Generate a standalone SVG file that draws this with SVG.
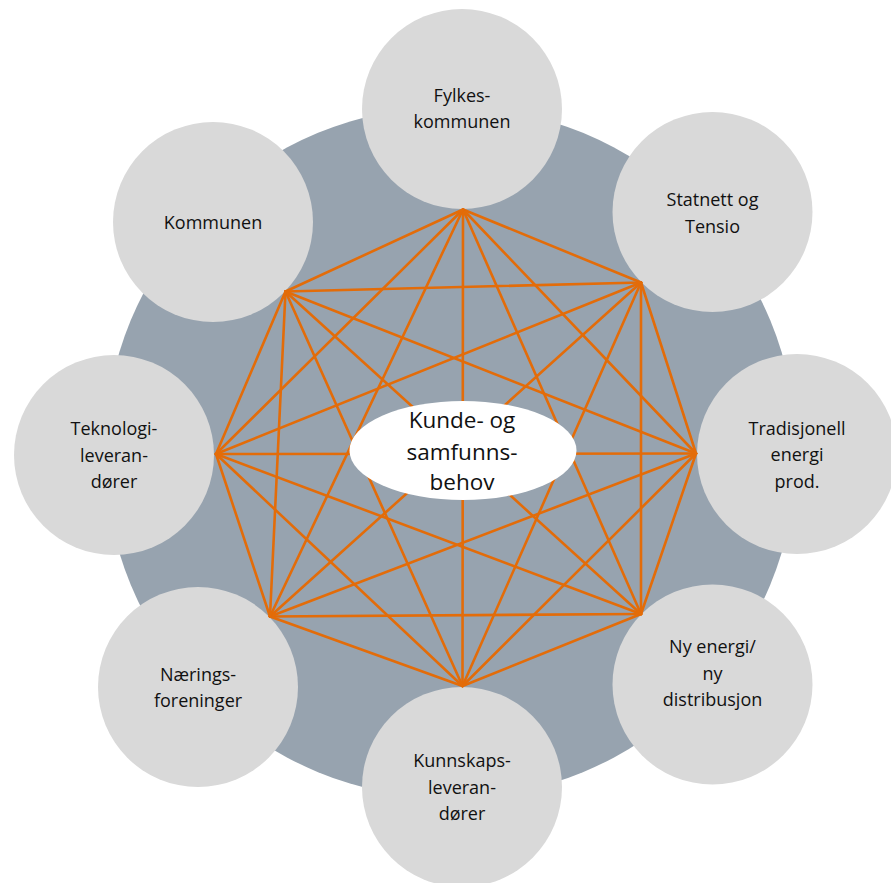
<svg xmlns="http://www.w3.org/2000/svg" width="891" height="883" viewBox="0 0 891 883">
<style>
.bg{fill:#97A3AF}
.node{fill:#D9D9D9}
.lbl{font-family:"Open Sans","Noto Sans","Liberation Sans",sans-serif;font-size:18px;fill:#111;text-anchor:middle}
.ctr{font-family:"Open Sans","Noto Sans","Liberation Sans",sans-serif;font-size:22.5px;fill:#111;text-anchor:middle}
#connectors line{stroke:#E36C09;stroke-width:2.6;stroke-linecap:round}
</style>
<rect width="891" height="883" fill="#FFFFFF"/>
<circle class="bg" cx="450.5" cy="452.5" r="346"/>
<g id="n-fylkes"><circle class="node" cx="462" cy="109" r="100"/>
<text class="lbl" x="462" y="101.5">Fylkes-</text><text class="lbl" x="462" y="128">kommunen</text></g>
<g id="n-statnett"><circle class="node" cx="712.5" cy="212" r="100"/>
<text class="lbl" x="712.5" y="206">Statnett og</text><text class="lbl" x="712.5" y="232.5">Tensio</text></g>
<g id="n-trad"><circle class="node" cx="797" cy="454" r="100"/>
<text class="lbl" x="797" y="434.5">Tradisjonell</text><text class="lbl" x="797" y="461">energi</text><text class="lbl" x="797" y="487.5">prod.</text></g>
<g id="n-ny"><circle class="node" cx="712.5" cy="684.5" r="100"/>
<text class="lbl" x="712.5" y="653">Ny energi/</text><text class="lbl" x="712.5" y="679.5">ny</text><text class="lbl" x="712.5" y="706">distribusjon</text></g>
<g id="n-kunnskap"><circle class="node" cx="462" cy="787" r="100"/>
<text class="lbl" x="462" y="767">Kunnskaps-</text><text class="lbl" x="462" y="793.5">leveran-</text><text class="lbl" x="462" y="820">dører</text></g>
<g id="n-naering"><circle class="node" cx="198" cy="687" r="100"/>
<text class="lbl" x="198" y="680.5">Nærings-</text><text class="lbl" x="198" y="707">foreninger</text></g>
<g id="n-teknologi"><circle class="node" cx="114" cy="455" r="100"/>
<text class="lbl" x="114" y="435">Teknologi-</text><text class="lbl" x="114" y="461.5">leveran-</text><text class="lbl" x="114" y="488">dører</text></g>
<g id="n-kommunen"><circle class="node" cx="213" cy="222" r="100"/>
<text class="lbl" x="213" y="228.5">Kommunen</text></g>
<g id="connectors">
<line x1="463" y1="209.5" x2="641" y2="282.5"/>
<line x1="463" y1="209.5" x2="696" y2="453.5"/>
<line x1="463" y1="209.5" x2="641" y2="614"/>
<line x1="463" y1="209.5" x2="462.5" y2="686"/>
<line x1="463" y1="209.5" x2="270" y2="616.5"/>
<line x1="463" y1="209.5" x2="216" y2="454"/>
<line x1="463" y1="209.5" x2="285.5" y2="291.5"/>
<line x1="641" y1="282.5" x2="696" y2="453.5"/>
<line x1="641" y1="282.5" x2="641" y2="614"/>
<line x1="641" y1="282.5" x2="462.5" y2="686"/>
<line x1="641" y1="282.5" x2="270" y2="616.5"/>
<line x1="641" y1="282.5" x2="216" y2="454"/>
<line x1="641" y1="282.5" x2="285.5" y2="291.5"/>
<line x1="696" y1="453.5" x2="641" y2="614"/>
<line x1="696" y1="453.5" x2="462.5" y2="686"/>
<line x1="696" y1="453.5" x2="270" y2="616.5"/>
<line x1="696" y1="453.5" x2="216" y2="454"/>
<line x1="696" y1="453.5" x2="285.5" y2="291.5"/>
<line x1="641" y1="614" x2="462.5" y2="686"/>
<line x1="641" y1="614" x2="270" y2="616.5"/>
<line x1="641" y1="614" x2="216" y2="454"/>
<line x1="641" y1="614" x2="285.5" y2="291.5"/>
<line x1="462.5" y1="686" x2="270" y2="616.5"/>
<line x1="462.5" y1="686" x2="216" y2="454"/>
<line x1="462.5" y1="686" x2="285.5" y2="291.5"/>
<line x1="270" y1="616.5" x2="216" y2="454"/>
<line x1="270" y1="616.5" x2="285.5" y2="291.5"/>
<line x1="216" y1="454" x2="285.5" y2="291.5"/>
</g>
<g id="n-center"><ellipse cx="463" cy="450.5" rx="113.5" ry="49.5" fill="#FFFFFF"/>
<text class="ctr" x="462" y="428">Kunde- og</text><text class="ctr" x="462" y="459.5">samfunns-</text><text class="ctr" x="462" y="490">behov</text></g>
</svg>
